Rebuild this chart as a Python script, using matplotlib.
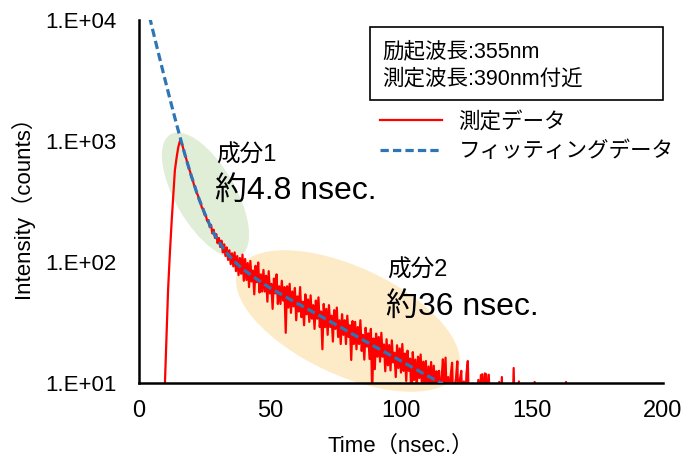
import numpy as np
import matplotlib
matplotlib.use("Agg")
import matplotlib.pyplot as plt
from matplotlib.patches import Ellipse, Rectangle

# 立ち上がり部分 (測定データ)
t_rise = [9.5, 9.9, 10.5, 11.1, 11.8, 12.5, 13.1, 13.7, 14.4, 15.0, 15.6]
c_rise = [6, 10, 25, 59, 120, 224, 363, 575, 741, 891, 1000]

# 減衰部分 (測定データ) 16.0 nsec から 0.5 nsec 刻み
c_decay = [
    980, 930, 850, 770, 718, 650, 598, 560, 505, 478,          # 16.0-
    432, 410, 372, 356, 322, 312, 280, 276, 246, 244,          # 21.0-
    218, 222, 194, 203, 172, 185, 158, 170, 143, 158,          # 26.0-
    133, 150, 120, 140, 112, 132, 104, 125, 96, 118,           # 31.0-
    92, 120, 84, 112, 78, 108, 80, 115, 70, 106,               # 36.0-
    71, 98, 62, 102, 69, 85, 54, 93, 68, 99,                   # 41.0-
    56, 79, 57, 86, 57, 77, 47, 84, 55, 66,                    # 46.0-
    41, 73, 55, 79, 45, 63, 45, 70, 48, 62,                    # 51.0-
    26, 63, 42, 66, 38, 57, 43, 61, 33, 52,                    # 56.0-
    39, 62, 35, 47, 30, 54, 37, 49, 32, 53,                    # 61.0-
    34, 44, 28, 48, 34, 51, 29, 39, 19, 45,                    # 66.0-
    29, 41, 25, 44, 29, 36, 22, 40, 28, 42,                    # 71.0-
    24, 33, 21, 37, 25, 33, 21, 36, 24, 30,                    # 76.0-
    15.5, 32.5, 21, 32, 19, 29, 21, 33, 18.4, 25,              # 81.0-
    15.6, 28.6, 20, 25.7, 15.8, 28, 8, 23.3, 13, 25.6,         # 86.0-
    16.5, 24, 15, 26, 16.5, 20.8, 12.5, 23, 14, 20.6,          # 91.0-
    12.7, 22.5, 14.8, 17.8, 11.2, 20.5, 13.3, 19.3, 12.2, 21,  # 96.0-
    12.6, 17.5, 10.4, 18.5, 12.6, 15.9, 6.8, 18, 10.6, 15.6,   # 101.0-
    9, 16.5, 11, 17.2, 9.2, 15, 10, 15.2, 7.5, 13.7,           # 106.0-
    9, 14.9, 7.6, 13.9, 9, 12.5, 6.2, 12.6, 8, 10.9,           # 111.0-
    15.7, 7.7, 16.2, 6.6, 11.2, 7.4, 11.7, 14.7, 6.1, 9.5,     # 116.0-
    11, 15.1, 5, 10.7, 12.6, 5.6, 10.3, 6.2, 12, 15.2,         # 121.0-
    5.3, 8.1, 5.1, 7.6, 5.7, 7.7, 5.5, 10.6, 6.7, 11.6,        # 126.0-
    11.8, 7, 12, 11.8, 6.1, 11.7, 5.9,                         # 131.0-
]

# 裾の部分 (測定データ)
t_tail = [134.5, 136.0, 137.5, 138.0, 138.5, 139.0, 142.5, 143.0, 143.5,
          144.5, 145.0, 145.5, 150.5, 151.0, 151.5, 162.5, 163.0, 163.5, 170.0]
c_tail = [5, 4, 10.2, 5, 11.2, 4, 4, 13.3, 4, 4, 10.3, 4, 4, 10.2, 4, 4, 10.2, 4, 4]

# フィッティングデータ
fit_t = [4, 6, 8, 10, 12, 14, 16, 18, 20, 22, 24, 26, 28, 30, 33, 36, 40, 45,
         50, 60, 70, 80, 90, 100, 110, 116]
fit_y = [10650, 7080, 4730, 3170, 2145, 1465, 1012, 712, 512, 377, 287, 226,
         182, 152, 122, 103, 86, 72, 61, 46, 35, 26.5, 20, 15.2, 11.5, 9.8]

x_ticks = [0, 50, 100, 150, 200]
y_ticks = [10, 100, 1000, 10000]
y_labels = ["1.E+01", "1.E+02", "1.E+03", "1.E+04"]

t_decay = 16.0 + 0.5 * np.arange(len(c_decay))
t_meas = np.concatenate([t_rise, t_decay, t_tail])
c_meas = np.concatenate([c_rise, c_decay, c_tail])

plt.rcParams["font.family"] = ["Liberation Sans", "Noto Sans CJK JP"]

W, H = 683, 459
fig = plt.figure(figsize=(W / 100, H / 100), dpi=100)
ax = fig.add_axes([139 / W, (H - 383) / H, 524 / W, 363 / H])


def fpos(x, y):
    # 画像のピクセル位置 -> figure座標
    return x / W, 1 - y / H


def elipse(cx, cy, w, h, ang, col):
    e = Ellipse((cx / 100, (H - cy) / 100), w / 100, h / 100, angle=ang,
                transform=fig.dpi_scale_trans, facecolor=col,
                edgecolor="none", zorder=0.5, clip_on=False)
    ax.add_patch(e)


elipse(348, 321, 242, 108, -25, "#fdebc8")
elipse(205.5, 195, 140, 60, -60, "#e0eed8")

linea_med, = ax.plot(t_meas, c_meas, color="#ff0000", lw=1.6, zorder=2)
linea_fit, = ax.plot(fit_t, fit_y, color="#2e75b6", lw=2.3,
                     ls=(0, (2.6, 1.3)), zorder=3)

ax.set_yscale("log")
ax.set_xlim(0, 200)
ax.set_ylim(10, 10000)
ax.set_xticks(x_ticks)
ax.set_yticks(y_ticks)
ax.set_yticklabels(y_labels)
ax.minorticks_off()
ax.tick_params(axis="y", length=0, pad=16, labelsize=16)
ax.tick_params(axis="x", length=0, pad=12, labelsize=17)
for s in ["top", "right"]:
    ax.spines[s].set_visible(False)
for s in ["left", "bottom"]:
    ax.spines[s].set_linewidth(1.8)

ax.set_xlabel("Time（nsec.）", fontsize=16)
ax.set_ylabel("Intensity（counts）", fontsize=16)
ax.xaxis.set_label_coords(0.5, (383 - 436) / 363)
ax.yaxis.set_label_coords((34 - 139) / 524, 0.5)

# 注釈
fig.text(*fpos(216, 156), "成分1", fontsize=17, va="center")
fig.text(*fpos(215, 191), "約4.8 nsec.", fontsize=23, va="center")
fig.text(*fpos(387, 271), "成分2", fontsize=17, va="center")
fig.text(*fpos(386, 307), "約36 nsec.", fontsize=23, va="center")

# 条件の枠
x0, y0 = fpos(370, 100)
fig.add_artist(Rectangle((x0, y0), 293 / W, 73 / H, transform=fig.transFigure,
                         fill=False, edgecolor="black", lw=1.2))
fig.text(*fpos(382, 52), "励起波長:355nm", fontsize=15.5, va="center")
fig.text(*fpos(382, 79), "測定波長:390nm付近", fontsize=15.5, va="center")

ax.legend([linea_med, linea_fit], ["測定データ", "フィッティングデータ"],
          loc="upper left", bbox_to_anchor=fpos(380, 112),
          bbox_transform=fig.transFigure, frameon=False, fontsize=15.5,
          handlelength=2.9, handletextpad=0.75, labelspacing=0.38,
          borderpad=0, borderaxespad=0)

fig.savefig("out.png", dpi=100)
